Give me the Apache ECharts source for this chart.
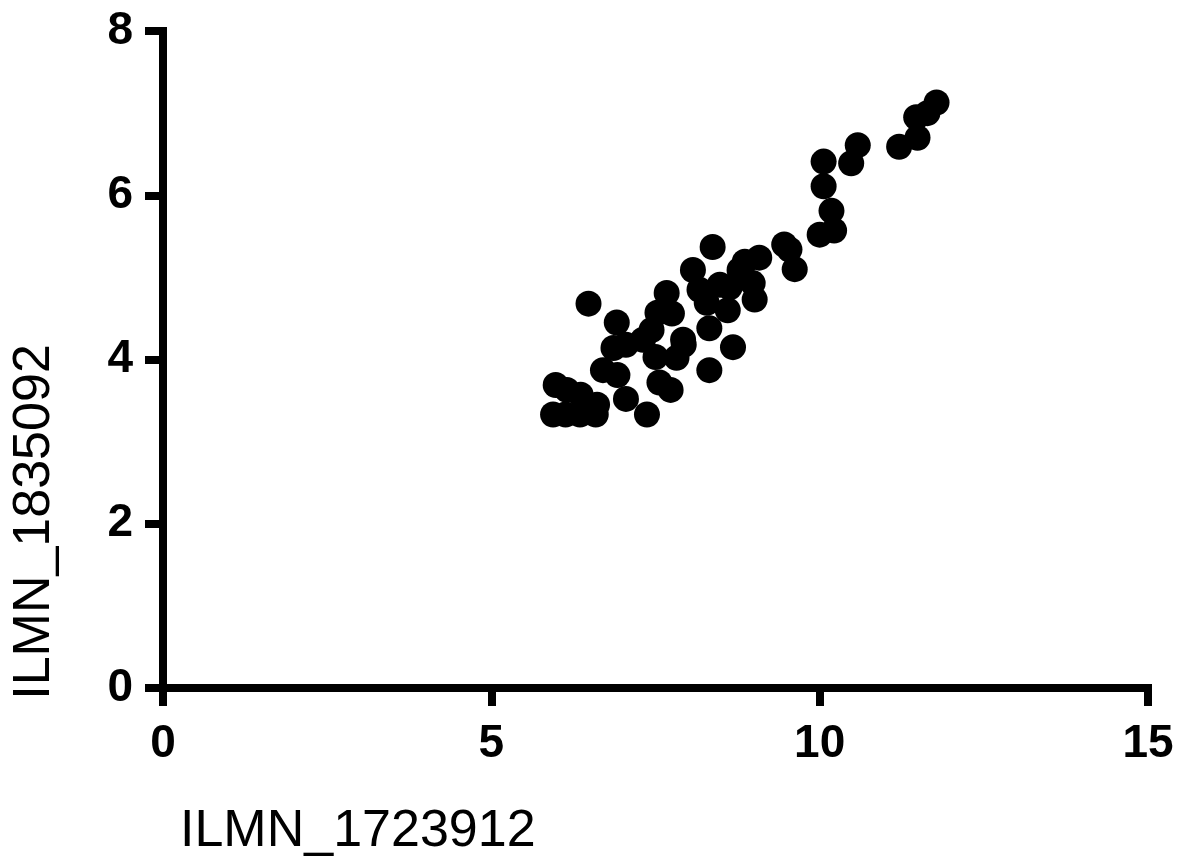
<!DOCTYPE html>
<html lang="en">
<head>
    <meta charset="UTF-8">
    <title>ILMN scatter</title>
    <script src="https://cdn.jsdelivr.net/npm/echarts@6/dist/echarts.min.js"></script>
    <style>
        html, body { margin: 0; padding: 0; background: #fff; }
    </style>
</head>
<body>
    <div id="dv" style="width:1186px;height:862px;"></div>
</body>
<script>
   var xVals = [
       5.98, 6.15, 6.36, 5.94, 6.13, 6.35, 6.59, 6.61, 7.05, 7.37,
       6.48, 6.91, 6.86, 7.05, 6.70, 6.92, 7.31, 7.50, 7.56, 7.73,
       7.53, 7.67, 7.93, 7.82, 7.75, 8.07, 8.28, 8.32, 8.63, 8.60,
       8.32, 8.68, 8.37, 8.86, 9.08, 9.46, 9.54, 9.62, 8.98, 9.01,
       7.92, 8.17, 7.44, 8.48, 8.78,
       10.00, 10.22, 10.18, 10.06, 10.06, 10.48, 10.58, 11.21, 11.49, 11.47, 11.64, 11.78
   ];
   var yVals = [
       3.69, 3.63, 3.57, 3.33, 3.33, 3.33, 3.33, 3.45, 3.52, 3.33,
       4.68, 4.45, 4.14, 4.18, 3.87, 3.81, 4.24, 4.03, 3.72, 3.63,
       4.57, 4.81, 4.18, 4.02, 4.56, 5.09, 4.69, 4.38, 4.88, 4.60,
       3.87, 4.15, 5.37, 5.19, 5.24, 5.40, 5.34, 5.10, 4.93, 4.73,
       4.24, 4.85, 4.36, 4.91, 5.09,
       5.52, 5.57, 5.81, 6.11, 6.41, 6.39, 6.61, 6.59, 6.70, 6.95, 7.00, 7.13
   ];
   var xName = 'ILMN_1723912';
   var yName = 'ILMN_1835092';

   var points = [];
   xVals.forEach((x, i) => {
       points.push([x, yVals[i]]);
   });

   var myChart = echarts.init(document.getElementById('dv'));
   var font = '"Liberation Sans", Arial, Helvetica, sans-serif';
   var axisLine = { show: true, onZero: false, lineStyle: { color: '#000', width: 8, cap: 'square' } };
   var axisTick = { show: true, length: 18, lineStyle: { color: '#000', width: 8 } };
   var axisLabel = { color: '#000', fontSize: 46, fontWeight: 'bold', fontFamily: font };

   var option = {
       backgroundColor: '#fff',
       animation: false,
       grid: { left: 163, right: 38, top: 31, bottom: 174 },
       xAxis: {
           type: 'value',
           min: 0, max: 15, interval: 5,
           axisLine: axisLine,
           axisTick: axisTick,
           axisLabel: Object.assign({ margin: 33 }, axisLabel),
           splitLine: { show: false }
       },
       yAxis: {
           type: 'value',
           min: 0, max: 8, interval: 2,
           axisLine: axisLine,
           axisTick: axisTick,
           axisLabel: Object.assign({ margin: 30 }, axisLabel),
           splitLine: { show: false }
       },
       graphic: [
           {
               type: 'text',
               left: 180, top: 806,
               style: { text: xName, fill: '#000', font: '52px ' + font }
           },
           {
               type: 'text',
               x: 35, y: 522,
               rotation: Math.PI / 2,
               style: { text: yName, fill: '#000', font: '52px ' + font, align: 'center', verticalAlign: 'middle' }
           }
       ],
       series: [
           {
               type: 'scatter',
               symbol: 'circle',
               symbolSize: 26,
               itemStyle: { color: '#000', opacity: 1 },
               data: points
           }
       ]
   };
   myChart.setOption(option);
</script>
</html>
